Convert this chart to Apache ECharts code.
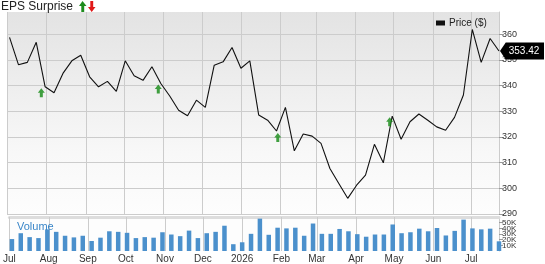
<!DOCTYPE html>
<html>
<head>
<meta charset="utf-8">
<script src="https://cdn.jsdelivr.net/npm/echarts@6/dist/echarts.min.js"></script>
<style>
  html, body { margin: 0; padding: 0; background: #fff; }
  #chart { width: 545px; height: 264px; }
</style>
</head>
<body>
<div id="chart"></div>
<script>
// weekly closes
var dates = [
  '2025-07-03', '2025-07-10', '2025-07-17', '2025-07-24', '2025-07-31',
  '2025-08-07', '2025-08-14', '2025-08-21', '2025-08-28',
  '2025-09-04', '2025-09-11', '2025-09-18', '2025-09-25',
  '2025-10-02', '2025-10-09', '2025-10-16', '2025-10-23', '2025-10-30',
  '2025-11-06', '2025-11-13', '2025-11-20', '2025-11-27',
  '2025-12-04', '2025-12-11', '2025-12-18', '2025-12-25',
  '2026-01-01', '2026-01-08', '2026-01-15', '2026-01-22', '2026-01-29',
  '2026-02-05', '2026-02-12', '2026-02-19', '2026-02-26',
  '2026-03-05', '2026-03-12', '2026-03-19', '2026-03-26',
  '2026-04-02', '2026-04-09', '2026-04-16', '2026-04-23', '2026-04-30',
  '2026-05-07', '2026-05-14', '2026-05-21', '2026-05-28',
  '2026-06-04', '2026-06-11', '2026-06-18', '2026-06-25',
  '2026-07-02', '2026-07-09', '2026-07-16', '2026-07-23'
];
var prices = [
  358.7, 348.1, 349.0, 356.8, 339.5, 337.2, 344.7, 349.6, 351.8, 343.4,
  339.5, 341.6, 337.7, 349.6, 343.8, 342.0, 347.3, 340.8, 335.9, 330.4,
  328.2, 334.3, 331.5, 347.9, 349.2, 354.8, 346.7, 349.6, 328.5, 326.5,
  322.3, 331.5, 314.6, 321.1, 320.3, 317.5, 307.7, 301.9, 296.1, 301.2,
  305.1, 317.1, 309.9, 328.1, 319.1, 325.9, 328.9, 326.5, 323.9, 322.6,
  327.6, 336.3, 361.8, 349.0, 358.3, 353.42
];
var volumes = [
  21100, 31400, 24500, 22800, 38200, 33800, 26900, 24000, 26900, 17700,
  23500, 34800, 33800, 32100, 22800, 24500, 23500, 33100, 29100, 26200,
  36000, 22800, 31400, 33800, 44600, 12000, 15400, 30300, 57100, 28600,
  41100, 39900, 41100, 26900, 48500, 30300, 30300, 38900, 34800, 29700,
  25200, 29100, 29100, 46800, 31400, 33100, 39400, 34800, 40600, 27400,
  35500, 55400, 39900, 38200, 39400, 17100
];
// earnings beats (green arrows), placed just under the price line
var epsDates = ['2025-07-28', '2025-10-28', '2026-01-30', '2026-04-28'];
var epsLevels = [337.2, 338.6, 319.8, 325.9];
// month ticks along the bottom
var monthTicks = [
  '2025-07-01', '2025-08-01', '2025-09-01', '2025-10-01', '2025-11-01', '2025-12-01',
  '2026-01-01', '2026-02-01', '2026-03-01', '2026-04-01', '2026-05-01', '2026-06-01', '2026-07-01'
];
var monthLabels = ['Jul', 'Aug', 'Sep', 'Oct', 'Nov', 'Dec', '2026', 'Feb', 'Mar', 'Apr', 'May', 'Jun', 'Jul'];

var ts = function (s) { return new Date(s + 'T00:00:00').getTime(); };
var tickValues = monthTicks.map(ts);
var xMin = ts('2025-07-01');
var xMax = ts('2026-07-23');

var upArrow = 'path://M3.5,0 L7,5 L5,5 L5,10 L2,10 L2,5 L0,5 Z';
var gridColor = '#cccccc';
var fontFam = 'Liberation Sans, Arial, sans-serif';

var chart = echarts.init(document.getElementById('chart'));

var dateAxis = function (gridIndex, showLabels) {
  return {
    type: 'value',
    gridIndex: gridIndex,
    min: xMin,
    max: xMax,
    axisLine: { show: false },
    axisTick: { show: false },
    axisLabel: {
      show: showLabels, fontSize: 10, color: '#333', margin: 3,
      customValues: tickValues,
      formatter: function (v) { return monthLabels[tickValues.indexOf(v)]; }
    },
    splitLine: { show: false }
  };
};

// crisp vertical month lines through a whole panel
var monthLines = function (axisIdx, baseValue) {
  return {
    type: 'custom',
    xAxisIndex: axisIdx, yAxisIndex: axisIdx,
    z: 1,
    silent: true,
    clip: false,
    data: tickValues.map(function (v) { return [v, baseValue]; }),
    renderItem: function (params, api) {
      var cs = params.coordSys;
      var x = Math.round(api.coord([api.value(0), api.value(1)])[0]) + 0.5;
      return {
        type: 'line',
        shape: { x1: x, y1: cs.y, x2: x, y2: cs.y + cs.height },
        style: { stroke: gridColor, lineWidth: 1 }
      };
    }
  };
};

chart.setOption({
  animation: false,
  textStyle: { fontFamily: fontFam },
  title: [
    {
      text: 'EPS Surprise',
      left: 1, top: 1, padding: 0,
      textStyle: { fontSize: 12, fontWeight: 'normal', color: '#222' }
    },
    {
      text: 'Volume',
      left: 17, top: 221, padding: 0,
      textStyle: { fontSize: 11, fontWeight: 'normal', color: '#3a86c8' }
    }
  ],
  legend: {
    data: [{ name: 'Price ($)', icon: 'rect' }],
    left: 436, top: 18, padding: 0,
    itemWidth: 9, itemHeight: 5, itemGap: 5,
    selectedMode: false,
    textStyle: { fontSize: 10, color: '#222', padding: [0, 0, 0, -1] }
  },
  graphic: [
    {
      type: 'polygon', left: 79, top: 1,
      shape: { points: [[3.5, 0], [7.5, 5], [5.2, 5], [5.2, 11], [2.3, 11], [2.3, 5], [0, 5]] },
      style: { fill: '#1e8c1e' }
    },
    {
      type: 'polygon', left: 88, top: 1,
      shape: { points: [[2.3, 0], [5.2, 0], [5.2, 6], [7.5, 6], [3.7, 11], [0, 6], [2.3, 6]] },
      style: { fill: '#e01818' }
    }
  ],
  grid: [
    {
      left: 7, right: 46, top: 12, bottom: 50,
      show: true, borderWidth: 0,
      backgroundColor: new echarts.graphic.LinearGradient(0, 0, 0, 1, [
        { offset: 0, color: '#e3e3e3' },
        { offset: 0.7, color: '#f8f8f8' },
        { offset: 1, color: '#fdfdfd' }
      ])
    },
    {
      left: 7, right: 46, top: 217, bottom: 12,
      show: true, borderWidth: 0, backgroundColor: '#fdfdfd'
    }
  ],
  xAxis: [
    dateAxis(0, false),
    dateAxis(1, true),
    {
      type: 'value', gridIndex: 1, position: 'top',
      min: xMin, max: xMax,
      axisLine: { show: true, lineStyle: { color: '#dddddd', width: 3 } },
      axisTick: { show: false }, axisLabel: { show: false }, splitLine: { show: false }
    }
  ],
  yAxis: [
    {
      type: 'value', gridIndex: 0, position: 'right',
      min: 290, max: 368.6, interval: 10,
      axisLine: { show: true, lineStyle: { color: gridColor } },
      axisTick: { show: true, length: 5, lineStyle: { color: '#999' } },
      axisLabel: { fontSize: 9, color: '#333', margin: 3, showMaxLabel: false },
      splitLine: { show: true, showMaxLine: false, lineStyle: { color: gridColor } }
    },
    {
      type: 'value', gridIndex: 1, position: 'right',
      min: 0, max: 60000, interval: 10000,
      axisLine: { show: true, lineStyle: { color: gridColor } },
      axisTick: { show: true, length: 4, lineStyle: { color: '#999' } },
      axisLabel: {
        fontSize: 8, color: '#333', margin: 3, lineHeight: 8,
        formatter: function (v) { return v === 0 ? '0' : (v / 1000) + 'K'; }
      },
      splitLine: { show: false }
    }
  ],
  series: [
    monthLines(0, 290),
    monthLines(1, 0),
    {
      name: 'Price ($)',
      type: 'line',
      xAxisIndex: 0, yAxisIndex: 0,
      z: 3,
      data: dates.map(function (d, i) { return [ts(d), prices[i]]; }),
      symbol: 'none',
      color: '#111',
      lineStyle: { color: '#111', width: 1.1 },
      markPoint: {
        symbol: 'path://M0,8 L6,0 L46,0 L46,16 L6,16 Z',
        symbolSize: [44, 17],
        symbolOffset: [23, 0],
        itemStyle: { color: '#000' },
        label: {
          show: true, color: '#fff', fontSize: 10, offset: [2, 0],
          formatter: function (p) { return p.value.toFixed(2); }
        },
        data: [{
          coord: [ts(dates[dates.length - 1]), prices[prices.length - 1]],
          value: prices[prices.length - 1]
        }]
      }
    },
    {
      name: 'EPS',
      type: 'scatter',
      xAxisIndex: 0, yAxisIndex: 0,
      z: 4,
      data: epsDates.map(function (d, i) { return [ts(d), epsLevels[i]]; }),
      symbol: upArrow,
      symbolSize: [7, 9],
      itemStyle: { color: '#138a13' }
    },
    {
      name: 'Volume',
      type: 'bar',
      xAxisIndex: 1, yAxisIndex: 1,
      z: 3,
      data: dates.map(function (d, i) { return [ts(d), volumes[i]]; }),
      barWidth: 4.5,
      itemStyle: { color: '#4b90cc' }
    }
  ]
});
</script>
</body>
</html>
